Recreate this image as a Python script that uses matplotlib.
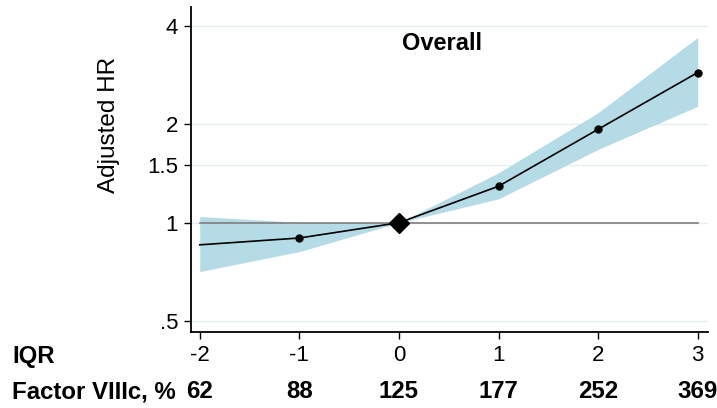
import matplotlib.pyplot as plt
import matplotlib.transforms as mtransforms

plt.rcParams['font.family'] = ['Liberation Sans', 'DejaVu Sans']

iqr = [-2, -1, 0, 1, 2, 3]
hr = [0.856, 0.898, 1.0, 1.293, 1.931, 2.88]
lower = [0.709, 0.816, 1.0, 1.183, 1.676, 2.27]
upper = [1.045, 1.003, 1.0, 1.421, 2.17, 3.69]
factor_pct = ["62", "88", "125", "177", "252", "369"]
yticks = [0.5, 1, 1.5, 2, 4]
ytick_labels = [".5", "1", "1.5", "2", "4"]

fig = plt.figure(figsize=(7.17, 4.08), dpi=100)
ax = fig.add_axes([0.266, 0.186, 0.721, 0.797])

ax.set_yscale('log')
ax.set_ylim(0.463, 4.57)
ax.set_xlim(-2.09, 3.1)

# grid
for t in yticks:
    ax.axhline(t, color='#e6eef1', lw=1, zorder=0)

ax.fill_between(iqr, lower, upper, color='#b5dce6', lw=0, zorder=1)
ax.plot([-2, 3], [1, 1], color='#7f7f7f', lw=1.2, zorder=2)
ax.plot(iqr, hr, color='black', lw=1.2, zorder=3)
ax.plot(iqr[1:], hr[1:], 'o', color='black', ms=5, zorder=4)
ax.plot([0], [1], 'D', color='black', ms=10, zorder=5)

ax.set_yticks(yticks)
ax.set_yticklabels(ytick_labels)
ax.minorticks_off()
ax.set_xticks(iqr)
ax.set_xticklabels([str(v) for v in iqr])
ax.tick_params(axis='both', labelsize=16, length=5, width=1, direction='out', pad=4)

for s in ['top', 'right']:
    ax.spines[s].set_visible(False)
for s in ['left', 'bottom']:
    ax.spines[s].set_linewidth(1.3)

ax.set_ylabel('Adjusted HR', fontsize=17.5)
ax.yaxis.set_label_coords(-0.137, 0.637)

ax.text(0.487, 0.889, 'Overall', transform=ax.transAxes, ha='center', va='center',
        fontsize=17, fontweight='bold')

fig.text(12 / 717, 1 - 356 / 408, 'IQR', ha='left', va='center',
         fontsize=17.3, fontweight='bold')
fig.text(12 / 717, 1 - 392 / 408, 'Factor VIIIc, %', ha='left', va='center',
         fontsize=17.3, fontweight='bold')

trans = mtransforms.blended_transform_factory(ax.transData, fig.transFigure)
for xv, lab in zip(iqr, factor_pct):
    ax.text(xv, 1 - 392 / 408, lab, transform=trans, ha='center', va='center',
            fontsize=17.3, fontweight='bold')

fig.savefig('out.png', dpi=100)
